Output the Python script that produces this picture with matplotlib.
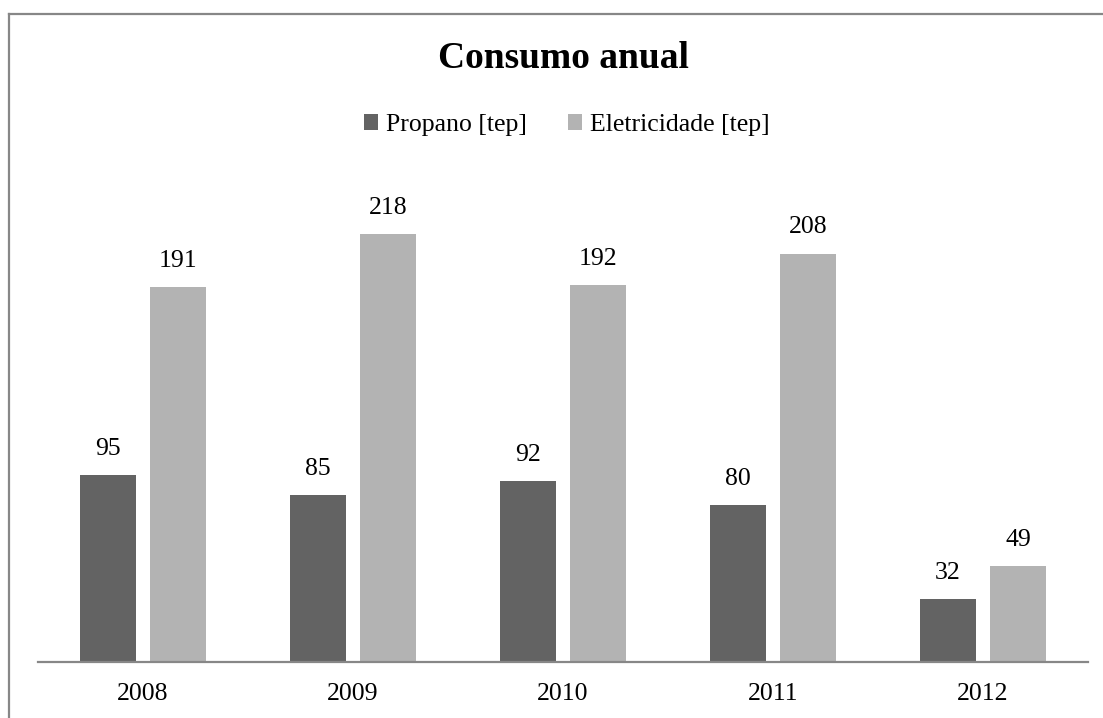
import matplotlib
matplotlib.use("Agg")
import matplotlib.pyplot as plt
import numpy as np
from matplotlib.lines import Line2D
from matplotlib.patches import Patch

years = ["2008", "2009", "2010", "2011", "2012"]
propano = [95, 85, 92, 80, 32]
eletricidade = [191, 218, 192, 208, 49]
series_names = ["Propano [tep]", "Eletricidade [tep]"]

DARK = "#636363"
LIGHT = "#b3b3b3"
FRAME = "#878787"

plt.rcParams["font.family"] = ["Liberation Serif", "DejaVu Serif"]

W, H = 1103, 718
fig = plt.figure(figsize=(W / 100, H / 100), dpi=100)
fig.patch.set_facecolor("white")

# plot area in pixel coordinates
left, right, bottom, top = 38, 1088, 662, 180
ax = fig.add_axes([left / W, 1 - bottom / H, (right - left) / W, (bottom - top) / H])

x = np.arange(len(years))
bw = 0.267
gap = 0.067
off = (bw + gap) / 2
b1 = ax.bar(x - off, propano, bw, color=DARK)
b2 = ax.bar(x + off, eletricidade, bw, color=LIGHT)

for bars, vals in ((b1, propano), (b2, eletricidade)):
    for rect, v in zip(bars, vals):
        ax.annotate(str(v), (rect.get_x() + rect.get_width() / 2, v),
                    xytext=(0, 11), textcoords="offset points",
                    ha="center", va="bottom", fontsize=18.5, color="black")

ax.set_xlim(-0.5, len(years) - 0.5)
ax.set_ylim(0, 245.5)
ax.set_xticks(x)
ax.set_xticklabels(years, fontsize=18.5)
ax.tick_params(axis="x", length=0, pad=15)
ax.set_yticks([])
for s in ("top", "right", "left"):
    ax.spines[s].set_visible(False)
ax.spines["bottom"].set_color(FRAME)
ax.spines["bottom"].set_linewidth(1.6)

fig.text(563 / W, 1 - 58 / H, "Consumo anual", ha="center", va="center",
         fontsize=27, fontweight="bold")

handles = [Patch(facecolor=DARK), Patch(facecolor=LIGHT)]
fig.legend(handles, series_names, loc="center", bbox_to_anchor=(567 / W, 1 - 125 / H),
           ncol=2, frameon=False, fontsize=18.5, handlelength=0.55, handleheight=0.55,
           handletextpad=0.3, columnspacing=1.6)

# outer frame: only the top and left edges are visible
fig.add_artist(Line2D([8.5 / W, 1.0], [1 - 14 / H, 1 - 14 / H], color=FRAME, lw=1.6,
                      transform=fig.transFigure))
fig.add_artist(Line2D([8.5 / W, 8.5 / W], [1 - 14 / H, 0.0], color=FRAME, lw=1.6,
                      transform=fig.transFigure))

fig.savefig("out.png", dpi=100, facecolor="white")
